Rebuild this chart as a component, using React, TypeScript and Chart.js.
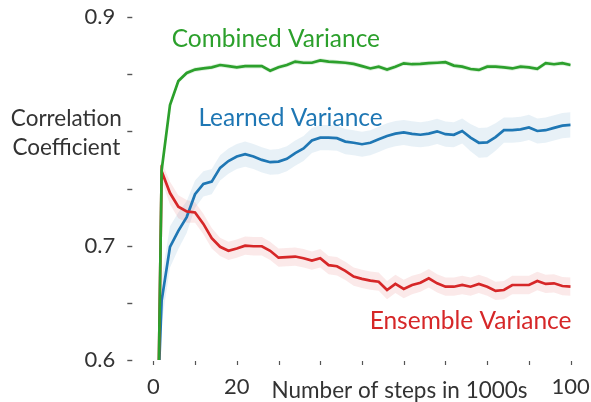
import React, { useEffect, useRef } from 'react';
import { Chart, registerables } from 'chart.js';

Chart.register(...registerables);

const steps = [0, 2, 4, 6, 8, 10, 12, 14, 16, 18, 20, 22, 24, 26, 28, 30, 32, 34, 36, 38, 40, 42, 44, 46, 48, 50, 52, 54, 56, 58, 60, 62, 64, 66, 68, 70, 72, 74, 76, 78, 80, 82, 84, 86, 88, 90, 92, 94, 96, 98, 100];

const combined = [0.26, 0.766, 0.823, 0.844, 0.851, 0.854, 0.855, 0.856, 0.858, 0.857, 0.856, 0.857, 0.857, 0.857, 0.853, 0.856, 0.858, 0.861, 0.860, 0.860, 0.862, 0.861, 0.8605, 0.860, 0.859, 0.857, 0.855, 0.8565, 0.854, 0.8565, 0.8595, 0.8587, 0.859, 0.8596, 0.860, 0.8605, 0.8575, 0.8566, 0.8545, 0.8537, 0.8566, 0.8566, 0.856, 0.855, 0.8566, 0.856, 0.8546, 0.8596, 0.8587, 0.8596, 0.858];
const combinedSpread = [0.002, 0.002, 0.002, 0.002, 0.002, 0.002, 0.002, 0.002, 0.002, 0.002, 0.002, 0.002, 0.002, 0.002, 0.002, 0.002, 0.002, 0.002, 0.002, 0.002, 0.002, 0.002, 0.002, 0.002, 0.002, 0.002, 0.002, 0.002, 0.002, 0.002, 0.002, 0.002, 0.002, 0.002, 0.002, 0.002, 0.002, 0.002, 0.002, 0.002, 0.002, 0.002, 0.002, 0.002, 0.002, 0.002, 0.002, 0.002, 0.002, 0.002, 0.002];

const learned = [0.46, 0.652, 0.699, 0.713, 0.725, 0.745, 0.754, 0.756, 0.768, 0.774, 0.778, 0.780, 0.778, 0.775, 0.773, 0.7735, 0.776, 0.781, 0.785, 0.792, 0.7945, 0.7945, 0.794, 0.791, 0.790, 0.7887, 0.790, 0.793, 0.796, 0.798, 0.799, 0.7978, 0.797, 0.798, 0.800, 0.7975, 0.797, 0.8003, 0.7945, 0.790, 0.7903, 0.795, 0.801, 0.801, 0.8017, 0.8034, 0.8003, 0.801, 0.803, 0.805, 0.8056];
const learnedSpread = [0.02, 0.02, 0.018, 0.016, 0.014, 0.012, 0.011, 0.011, 0.011, 0.011, 0.011, 0.011, 0.011, 0.011, 0.011, 0.011, 0.011, 0.011, 0.011, 0.011, 0.011, 0.011, 0.011, 0.011, 0.011, 0.011, 0.011, 0.011, 0.011, 0.011, 0.011, 0.011, 0.011, 0.011, 0.011, 0.011, 0.011, 0.011, 0.012, 0.013, 0.013, 0.012, 0.011, 0.011, 0.011, 0.011, 0.011, 0.011, 0.011, 0.011, 0.011];

const ensemble = [0.26, 0.765, 0.746, 0.734, 0.730, 0.729, 0.719, 0.7065, 0.699, 0.6955, 0.6975, 0.700, 0.6995, 0.6995, 0.6955, 0.6895, 0.690, 0.6905, 0.689, 0.687, 0.689, 0.683, 0.682, 0.678, 0.673, 0.671, 0.6694, 0.6685, 0.6612, 0.6665, 0.6621, 0.6656, 0.6676, 0.6715, 0.6671, 0.6641, 0.6641, 0.6656, 0.6641, 0.6665, 0.6641, 0.6604, 0.6612, 0.6656, 0.6656, 0.6656, 0.6691, 0.6665, 0.6671, 0.6647, 0.6641];
const ensembleSpread = [0.008, 0.008, 0.01, 0.01, 0.01, 0.009, 0.009, 0.009, 0.008, 0.008, 0.008, 0.008, 0.008, 0.008, 0.008, 0.008, 0.008, 0.008, 0.008, 0.008, 0.008, 0.008, 0.008, 0.008, 0.008, 0.008, 0.008, 0.008, 0.008, 0.008, 0.008, 0.008, 0.008, 0.008, 0.008, 0.008, 0.008, 0.008, 0.008, 0.008, 0.008, 0.008, 0.008, 0.008, 0.008, 0.008, 0.008, 0.008, 0.008, 0.008, 0.008];

const yTickValues = [0.6, 0.65, 0.7, 0.75, 0.8, 0.85, 0.9];
const yLabelled = ['0.6', '0.7', '0.9'];
const xTickValues = [0, 10, 20, 30, 40, 50, 60, 70, 80, 90, 100];
const xLabelled = [0, 20, 100];

const GREEN = '#2ca02c';
const BLUE = '#1f77b4';
const RED = '#d62728';
const FONT = 'Lato';
const TEXT = '#333333';
const TICK = '#555555';

const pts = (vals: number[]) => steps.map((x, i) => ({ x, y: vals[i] }));
const band = (vals: number[], spread: number[], sign: number) =>
  steps.map((x, i) => ({ x, y: vals[i] + sign * spread[i] }));

const noPad = (s: any) => {
  s.paddingTop = 0;
  s.paddingBottom = 0;
  s.paddingLeft = 0;
  s.paddingRight = 0;
};

export default function App() {
  const ref = useRef<HTMLCanvasElement | null>(null);

  useEffect(() => {
    if (!ref.current) return;

    const decor = {
      id: 'decor',
      afterDraw(chart: any) {
        const { ctx, chartArea, scales } = chart;
        const xs = scales.x;
        const ys = scales.y;
        ctx.save();
        ctx.strokeStyle = TICK;
        ctx.lineWidth = 1.4;
        yTickValues.forEach((v) => {
          const py = Math.round(ys.getPixelForValue(v)) + 0.5;
          ctx.beginPath();
          ctx.moveTo(chartArea.left - 26, py);
          ctx.lineTo(chartArea.left - 21, py);
          ctx.stroke();
        });
        ctx.lineWidth = 1.2;
        xTickValues.forEach((v) => {
          const px = Math.round(xs.getPixelForValue(v)) + 0.5;
          ctx.beginPath();
          ctx.moveTo(px, chartArea.bottom + 1);
          ctx.lineTo(px, chartArea.bottom + 5);
          ctx.stroke();
        });
        ctx.fillStyle = TEXT;
        ctx.font = `22.5px ${FONT}`;
        ctx.textBaseline = 'alphabetic';
        ctx.textAlign = 'center';
        ctx.fillText('Number of steps in 1000s', xs.getPixelForValue(59.0), chartArea.bottom + 37.5);
        ctx.fillText('Correlation', chartArea.left - 87, ys.getPixelForValue(0.8047));
        ctx.fillText('Coefficient', chartArea.left - 87, ys.getPixelForValue(0.7794));
        ctx.font = `24.5px ${FONT}`;
        ctx.textAlign = 'left';
        ctx.fillStyle = GREEN;
        ctx.fillText('Combined Variance', xs.getPixelForValue(4.4), ys.getPixelForValue(0.874));
        ctx.fillStyle = BLUE;
        ctx.fillText('Learned Variance', xs.getPixelForValue(10.8), ys.getPixelForValue(0.8047));
        ctx.fillStyle = RED;
        ctx.textAlign = 'right';
        ctx.fillText('Ensemble Variance', xs.getPixelForValue(100.2), ys.getPixelForValue(0.6268));
        ctx.restore();
      },
    };

    const line = (data: any[], color: string, order: number) => ({
      data,
      borderColor: color,
      borderWidth: 2.7,
      pointRadius: 0,
      tension: 0,
      fill: false,
      clip: 0,
      order,
    });
    const lower = (data: any[], order: number) => ({
      data,
      borderWidth: 0,
      borderColor: 'rgba(0,0,0,0)',
      pointRadius: 0,
      fill: false,
      clip: 0,
      order,
    });
    const upper = (data: any[], target: number, color: string, order: number) => ({
      data,
      borderWidth: 0,
      borderColor: 'rgba(0,0,0,0)',
      backgroundColor: color,
      pointRadius: 0,
      fill: target,
      clip: 0,
      order,
    });

    const chart = new Chart(ref.current, {
      type: 'line',
      data: {
        datasets: [
          line(pts(combined), GREEN, 0),
          line(pts(ensemble), RED, 1),
          line(pts(learned), BLUE, 2),
          lower(band(combined, combinedSpread, -1), 10),
          upper(band(combined, combinedSpread, 1), 3, 'rgba(44,160,44,0.15)', 10),
          lower(band(ensemble, ensembleSpread, -1), 11),
          upper(band(ensemble, ensembleSpread, 1), 5, 'rgba(214,39,40,0.1)', 11),
          lower(band(learned, learnedSpread, -1), 12),
          upper(band(learned, learnedSpread, 1), 7, 'rgba(31,119,180,0.1)', 12),
        ] as any,
      },
      options: {
        responsive: false,
        animation: false,
        events: [],
        layout: { padding: { left: 0, top: 17, right: 20.3, bottom: 0 } },
        plugins: {
          legend: { display: false },
          tooltip: { enabled: false },
        },
        scales: {
          x: {
            type: 'linear',
            min: 0,
            max: 100,
            border: { display: false },
            grid: { display: false, drawTicks: false },
            ticks: {
              stepSize: 10,
              autoSkip: false,
              maxRotation: 0,
              padding: 14,
              color: TEXT,
              font: { family: FONT, size: 22 },
              callback: (v: any) => (xLabelled.includes(Number(v)) ? String(v) : ''),
            },
            afterFit: (s: any) => {
              s.height = 42;
              noPad(s);
            },
          },
          y: {
            type: 'linear',
            min: 0.6,
            max: 0.9,
            border: { display: false },
            grid: { display: false, drawTicks: false },
            ticks: {
              stepSize: 0.05,
              autoSkip: false,
              padding: 38,
              color: TEXT,
              font: { family: FONT, size: 22 },
              callback: (v: any) => {
                const s = Number(v).toFixed(1);
                const isTenth = Math.abs(Number(v) * 10 - Math.round(Number(v) * 10)) < 1e-6;
                return isTenth && yLabelled.includes(s) ? s : '';
              },
            },
            afterFit: (s: any) => {
              s.width = 153.3;
              noPad(s);
            },
          },
        },
      },
      plugins: [decor],
    });

    return () => chart.destroy();
  }, []);

  return (
    <div style={{ position: 'fixed', left: 0, top: 0, width: 591, height: 402, background: '#fff' }}>
      <canvas ref={ref} width={591} height={402} style={{ display: 'block' }} />
    </div>
  );
}
